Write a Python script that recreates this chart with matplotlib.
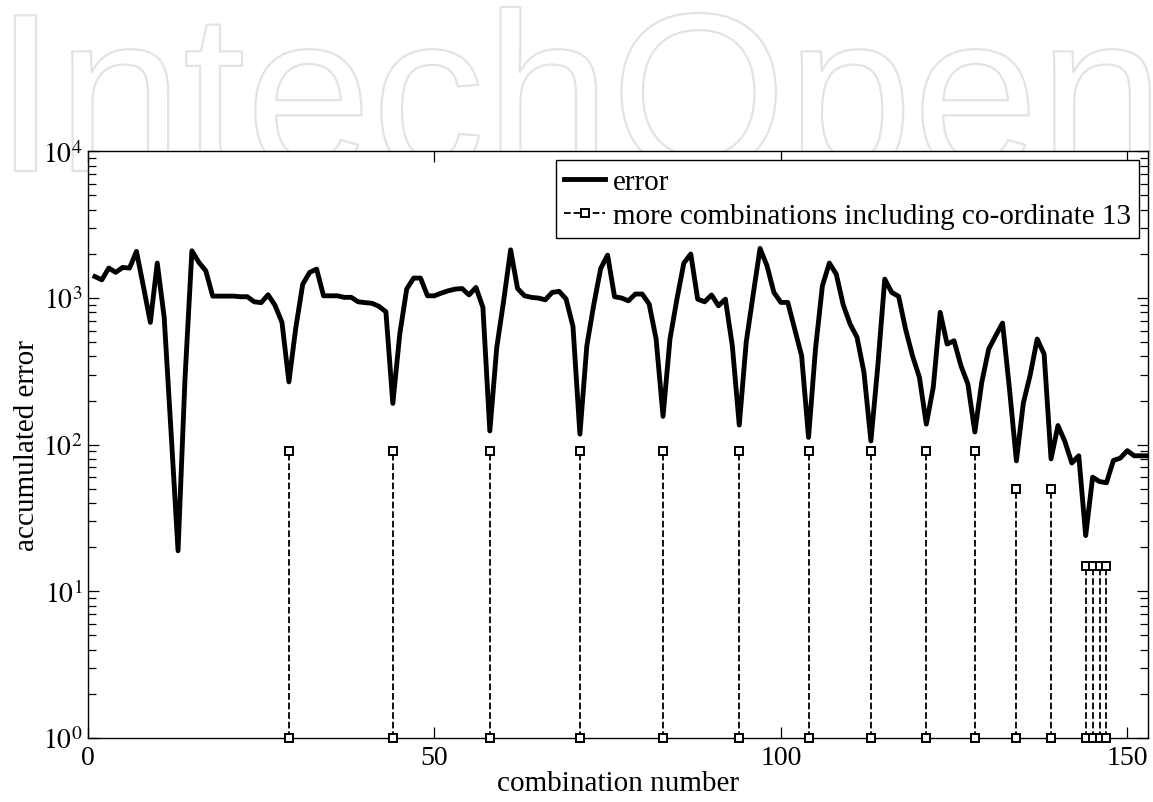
import matplotlib

matplotlib.use("Agg")
import matplotlib.pyplot as plt
import matplotlib.patheffects as pe

plt.rcParams["font.family"] = ["Liberation Serif", "DejaVu Serif"]
plt.rcParams["mathtext.fontset"] = "stix"

# accumulated error for combinations 1..153
ERROR = [
    1400, 1330, 1600, 1495, 1615, 1600, 2077, 1200, 682, 1730,
    738, 120, 18.9, 280, 2098, 1750, 1534, 1030, 1030, 1030,
    1030, 1020, 1020, 942, 930, 1052, 890, 682, 268, 630,
    1244, 1494, 1574, 1035, 1035, 1035, 1010, 1010, 942, 930,
    920, 877, 806, 191, 567, 1150, 1367, 1367, 1035, 1035,
    1080, 1120, 1150, 1160, 1050, 1180, 863, 124, 460, 960,
    2130, 1162, 1035, 1010, 999, 972, 1092, 1110, 985, 640,
    118, 472, 900, 1590, 1960, 1020, 1000, 957, 1064, 1064,
    908, 525, 156, 525, 980, 1730, 1995, 982, 942, 1048,
    885, 982, 472, 136, 498, 1050, 2178, 1660, 1092, 933,
    933, 614, 404, 112, 448, 1211, 1730, 1455, 900, 664,
    539, 311, 106, 345, 1345, 1092, 1026, 614, 404, 288,
    138, 246, 798, 485, 511, 345, 259, 122, 266, 448,
    552, 675, 240, 77.6, 192, 300, 525, 415, 80, 135,
    105, 75, 84, 24, 60, 56, 55, 78, 81, 91,
    84, 84, 84,
]
COMBINATION = list(range(1, len(ERROR) + 1))

# combinations that include co-ordinate 13, and stem heights
STEM_X = [29, 44, 58, 71, 83, 94, 104, 113, 121, 128, 134, 139, 144, 145, 146, 147]
STEM_H = [90, 90, 90, 90, 90, 90, 90, 90, 90, 90, 50, 50, 15, 15, 15, 15]
STEM_BASE = 1

XTICKS = [0, 50, 100, 150]
YTICKS = [1, 10, 100, 1000, 10000]
YTICK_LABELS = [r"$10^{0}$", r"$10^{1}$", r"$10^{2}$", r"$10^{3}$", r"$10^{4}$"]

fig = plt.figure(figsize=(11.53, 8.03), dpi=100)
ax = fig.add_axes([0.0763, 0.0797, 0.9194, 0.7306])

ax.plot(COMBINATION, ERROR, "-", color="black", lw=3.5, label="error", zorder=3)

for i, (sx, sh) in enumerate(zip(STEM_X, STEM_H)):
    ax.plot([sx, sx], [STEM_BASE, sh], "--s", color="black", lw=1.3,
            ms=5.5, mfc="white", mec="black", mew=1.4, clip_on=False,
            label="more combinations including co-ordinate 13" if i == 0 else None,
            zorder=4)

ax.set_yscale("log")
ax.set_xlim(0, 153)
ax.set_ylim(1, 1e4)
ax.set_xticks(XTICKS)
ax.set_yticks(YTICKS)
ax.set_yticklabels(YTICK_LABELS)
ax.tick_params(which="both", direction="in", top=True, right=True, labelsize=20,
               width=0.9)
ax.tick_params(which="major", length=8)
ax.tick_params(which="minor", length=6)
ax.tick_params(axis="x", pad=5)
ax.tick_params(axis="y", pad=4)
for s in ax.spines.values():
    s.set_linewidth(1.0)

ax.set_xlabel("combination number", fontsize=21, labelpad=0)
ax.set_ylabel("accumulated error", fontsize=21, labelpad=2)

leg = ax.legend(loc="upper right", fontsize=21, frameon=True, fancybox=False,
                edgecolor="black", framealpha=1, borderaxespad=0.3,
                borderpad=0.3, labelspacing=0.25, handlelength=1.4,
                handletextpad=0.25)
leg.get_frame().set_linewidth(1.0)

# publisher watermark, sitting behind the axes
fig.text(-6 / 1153, 1 - 172 / 803, "IntechOpen", fontsize=163,
         family="Liberation Sans", color="none", ha="left", va="baseline",
         zorder=-1,
         path_effects=[pe.withStroke(linewidth=1.6, foreground="#e3e3e3")])

fig.savefig("out.png", dpi=100)
